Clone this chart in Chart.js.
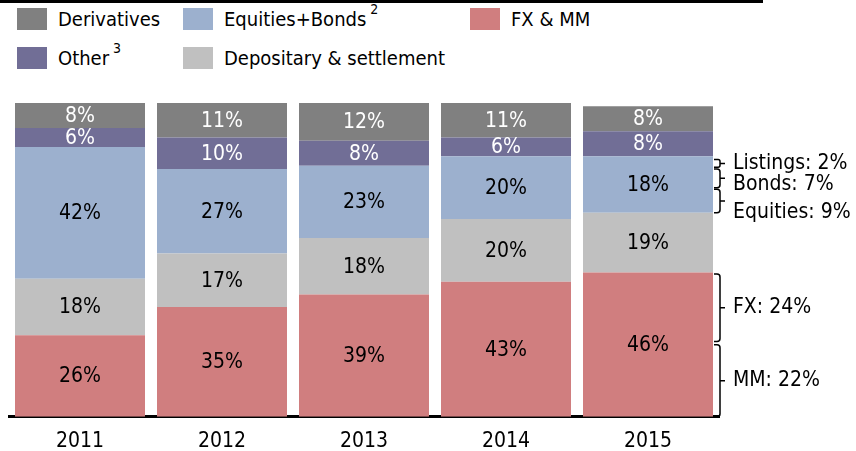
<!DOCTYPE html>
<html>
<head>
<meta charset="utf-8">
<script src="https://cdn.jsdelivr.net/npm/chart.js@4.4.0/dist/chart.umd.min.js"></script>
<style>
  body { margin: 0; background: #fff; font-family: "DejaVu Sans Condensed", Tahoma, sans-serif; }
  #wrap { position: relative; width: 856px; height: 451px; overflow: hidden; }
  #topline { position: absolute; left: 0; top: 0; width: 763px; height: 3px; background: #000; }
  #legend { position: absolute; left: 17px; top: 8px; display: grid;
            grid-template-columns: 166px 287px auto; row-gap: 17px; font-size: 20px; color: #000; }
  .item { display: flex; align-items: center; height: 22px; white-space: nowrap; }
  .sw { width: 30px; height: 22px; margin-right: 11px; }
  .sup { font-size: 14px; position: relative; top: -10px; margin-left: 4px; }
  canvas { position: absolute; left: 0; top: 0; }
</style>
</head>
<body>
<div id="wrap">
  <div id="topline"></div>
  <div id="legend"></div>
  <canvas id="chart" width="856" height="451"></canvas>
</div>
<script>
// categories
var years = ["2011", "2012", "2013", "2014", "2015"];

// series values (% of revenue), bottom to top
var fxMM          = [26, 35, 39, 43, 46];
var depositary    = [18, 17, 18, 20, 19];
var equitiesBonds = [42, 27, 23, 20, 18];
var other         = [6, 10, 8, 6, 8];
var derivatives   = [8, 11, 12, 11, 8];

// breakdown of the 2015 bar shown on the right
var braceLabels = ["MM: 22%", "FX: 24%", "Equities: 9%", "Bonds: 7%", "Listings: 2%"];
var braceFrom   = [0, 24, 65, 73, 79.5];
var braceTo     = [23, 45.5, 72.5, 79, 82];

var series = [
  { name: "FX & MM", sup: "", data: fxMM, color: "#D07E7F", text: "#000" },
  { name: "Depositary & settlement", sup: "", data: depositary, color: "#C0C0C0", text: "#000" },
  { name: "Equities+Bonds", sup: "2", data: equitiesBonds, color: "#9CB0CE", text: "#000" },
  { name: "Other", sup: "3", data: other, color: "#716E96", text: "#fff" },
  { name: "Derivatives", sup: "", data: derivatives, color: "#808080", text: "#fff" }
];

// legend, in the order it is laid out (row by row)
var legendOrder = ["Derivatives", "Equities+Bonds", "FX & MM", "Other", "Depositary & settlement"];
var legendEl = document.getElementById("legend");
legendOrder.forEach(function (n) {
  var s = series.find(function (d) { return d.name === n; });
  var div = document.createElement("div");
  div.className = "item";
  div.innerHTML = '<span class="sw" style="background:' + s.color + '"></span>' + s.name +
    (s.sup ? '<span class="sup">' + s.sup + '</span>' : '');
  legendEl.appendChild(div);
});

var FAMILY = '"DejaVu Sans Condensed", Tahoma, sans-serif';
var FONT = '21px ' + FAMILY;

var barLabels = {
  id: "barLabels",
  afterDatasetsDraw: function (chart) {
    var ctx = chart.ctx;
    ctx.save();
    ctx.font = FONT;
    ctx.textAlign = "center";
    ctx.textBaseline = "middle";
    chart.data.datasets.forEach(function (ds, i) {
      chart.getDatasetMeta(i).data.forEach(function (bar, j) {
        ctx.fillStyle = series[i].text;
        ctx.fillText(ds.data[j] + "%", bar.x, (bar.y + bar.base) / 2 + 1);
      });
    });
    ctx.restore();
  }
};

var braces = {
  id: "braces",
  afterDatasetsDraw: function (chart) {
    var ctx = chart.ctx;
    var y = chart.scales.y;
    var meta = chart.getDatasetMeta(0);
    var last = meta.data[meta.data.length - 1];
    var x = last.x + last.width / 2 + 1;
    var textShift = [0, 0, 11, 6, 0];
    ctx.save();
    ctx.strokeStyle = "#000";
    ctx.lineWidth = 1.5;
    ctx.font = FONT;
    ctx.fillStyle = "#000";
    ctx.textBaseline = "middle";
    for (var k = 0; k < braceLabels.length; k++) {
      var yb = y.getPixelForValue(braceFrom[k]);
      var yt = y.getPixelForValue(braceTo[k]);
      var ym = (yt + yb) / 2;
      var r = Math.min(3, (yb - yt) / 4);
      var vx = x + 6;
      ctx.beginPath();
      ctx.moveTo(x, yt);
      ctx.lineTo(vx - r, yt);
      ctx.quadraticCurveTo(vx, yt, vx, yt + r);
      ctx.lineTo(vx, yb - r);
      ctx.quadraticCurveTo(vx, yb, vx - r, yb);
      ctx.lineTo(x, yb);
      ctx.moveTo(vx, ym);
      ctx.lineTo(vx + 5, ym);
      ctx.stroke();
      ctx.fillText(braceLabels[k], x + 19, ym + textShift[k]);
    }
    ctx.restore();
  }
};

new Chart(document.getElementById("chart").getContext("2d"), {
  type: "bar",
  data: {
    labels: years,
    datasets: series.map(function (s) {
      return {
        label: s.name,
        data: s.data,
        backgroundColor: s.color,
        borderWidth: 0,
        barPercentage: 130 / 142,
        categoryPercentage: 1
      };
    })
  },
  options: {
    responsive: false,
    animation: false,
    layout: { padding: { left: 9, right: 137, top: 103, bottom: -15 } },
    plugins: { legend: { display: false }, tooltip: { enabled: false } },
    scales: {
      x: {
        stacked: true,
        z: 1,
        grid: { display: false, drawTicks: false },
        border: { display: true, color: "#000", width: 3 },
        ticks: { color: "#000", padding: 12, font: { family: FAMILY, size: 21 } }
      },
      y: { stacked: true, display: false, min: 0, max: 100 }
    }
  },
  plugins: [barLabels, braces]
});
</script>
</body>
</html>
